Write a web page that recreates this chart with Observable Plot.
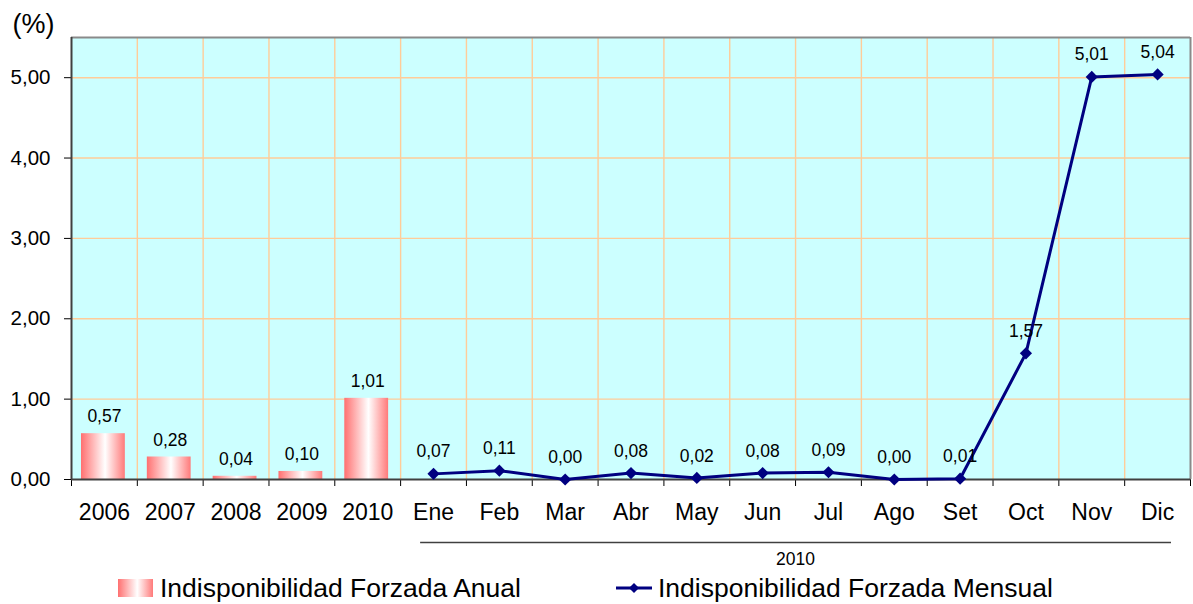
<!DOCTYPE html>
<html>
<head>
<meta charset="utf-8">
<script src="https://cdn.jsdelivr.net/npm/d3@7"></script>
<script src="https://cdn.jsdelivr.net/npm/@observablehq/plot@0.6"></script>
<style>
  html, body { margin: 0; padding: 0; background: #fff; }
  body { width: 1193px; height: 604px; overflow: hidden; font-family: "Liberation Sans", Arial, sans-serif; }
  #legend { position: relative; height: 32px; width: 1193px; font-size: 26.5px; color: #000; }
  #legend .sw1 { position: absolute; left: 118px; top: 7px; width: 35px; height: 18px;
    background: linear-gradient(to right, #ff7070 0%, #ffffff 55%, #ff7a7a 100%); }
  #legend .t { position: absolute; top: 0px; line-height: 32px; white-space: nowrap; }
  #legend svg { position: absolute; left: 614px; top: 8px; }
</style>
</head>
<body>
<div id="chart"></div>
<div id="legend">
  <div class="sw1"></div>
  <div class="t" style="left:160px">Indisponibilidad Forzada Anual</div>
  <svg width="42" height="16"><line x1="2" y1="8" x2="38" y2="8" stroke="#000080" stroke-width="3"/><path d="M20,3 L25,8 L20,13 L15,8 Z" fill="#000080"/></svg>
  <div class="t" style="left:658px">Indisponibilidad Forzada Mensual</div>
</div>
<script>
// ---- data ----
const annualYears = ["2006", "2007", "2008", "2009", "2010"];
const annualValues = [0.57, 0.28, 0.04, 0.10, 1.01];
const months = ["Ene", "Feb", "Mar", "Abr", "May", "Jun", "Jul", "Ago", "Set", "Oct", "Nov", "Dic"];
const monthlyValues = [0.07, 0.11, 0.00, 0.08, 0.02, 0.08, 0.09, 0.00, 0.01, 1.57, 5.01, 5.04];
const yTicks = [0, 1, 2, 3, 4, 5];
const groupLabel = "2010";
const groupStart = "Ene";
const groupEnd = "Dic";
const unitLabel = "(%)";

// ---- derived tables ----
const categories = [...annualYears, ...months];
const idx = c => categories.indexOf(c);
const bounds = d3.range(0, categories.length + 1);
const fmt = d => d.toFixed(2).replace(".", ",");
const annual = annualYears.map((c, i) => ({c, v: annualValues[i]}));
const monthly = months.map((c, i) => ({c, v: monthlyValues[i]}));
const group = [{label: groupLabel, start: groupStart, end: groupEnd}];

const gridColor = "#ffcc99";

const chart = Plot.plot({
  width: 1193,
  height: 572,
  marginLeft: 71,
  marginRight: 3,
  marginTop: 37,
  marginBottom: 93,
  style: {fontFamily: "'Liberation Sans', Arial, sans-serif", fontSize: "20.5px", background: "white", color: "#000"},
  x: {domain: [0, categories.length], ticks: bounds, tickFormat: () => "", tickSize: 7, label: null},
  y: {domain: [0, 5.5], ticks: yTicks, tickFormat: fmt, tickSize: 7, tickPadding: 14, label: null},
  marks: [
    Plot.frame({fill: "#ccffff", stroke: null}),
    Plot.ruleY(yTicks.filter(t => t > 0), {stroke: gridColor, strokeWidth: 1.4}),
    Plot.ruleX(bounds.slice(1, -1), {stroke: gridColor, strokeWidth: 1.4}),
    Plot.ruleY([5.5], {stroke: "#8a8a8a", strokeWidth: 2}),
    Plot.ruleX([categories.length], {stroke: "#8a8a8a", strokeWidth: 2}),
    Plot.rectY(annual, {x1: d => idx(d.c), x2: d => idx(d.c) + 1, y: "v", fill: "url(#barGrad)", insetLeft: 10, insetRight: 12}),
    Plot.text(annual, {x: d => idx(d.c) + 0.5, y: "v", text: d => fmt(d.v), dy: -17, fontSize: 17.5}),
    Plot.ruleX([0], {stroke: "#404040", strokeWidth: 2}),
    Plot.ruleY([0], {stroke: "#404040", strokeWidth: 2}),
    Plot.line(monthly, {x: d => idx(d.c) + 0.5, y: "v", stroke: "#000080", strokeWidth: 3}),
    Plot.dot(monthly, {x: d => idx(d.c) + 0.5, y: "v", symbol: "diamond2", r: 5.5, fill: "#000080", stroke: null}),
    Plot.text(monthly, {x: d => idx(d.c) + 0.5, y: "v", text: d => fmt(d.v), dy: -22, fontSize: 17.5}),
    Plot.text(categories, {x: (d, i) => i + 0.5, y: 0, text: d => d, dy: 33, fontSize: 23}),
    Plot.ruleY(group, {x1: d => idx(d.start), x2: d => idx(d.end) + 1, y: 0, dy: 63, insetLeft: 20, insetRight: 19, stroke: "#404040", strokeWidth: 1.5}),
    Plot.text(group, {x: d => (idx(d.start) + idx(d.end) + 1) / 2, y: 0, text: "label", dy: 80, fontSize: 17.5}),
    Plot.text([unitLabel], {frameAnchor: "top-left", textAnchor: "start", lineAnchor: "middle", dx: -59, dy: -13, fontSize: 27})
  ]
});

d3.select(chart).insert("defs", ":first-child").html(
  '<linearGradient id="barGrad" x1="0" x2="1" y1="0" y2="0">' +
  '<stop offset="0" stop-color="#ff7070"/>' +
  '<stop offset="0.55" stop-color="#ffffff"/>' +
  '<stop offset="1" stop-color="#ff7a7a"/>' +
  '</linearGradient>'
);

document.getElementById("chart").appendChild(chart);
</script>
</body>
</html>
